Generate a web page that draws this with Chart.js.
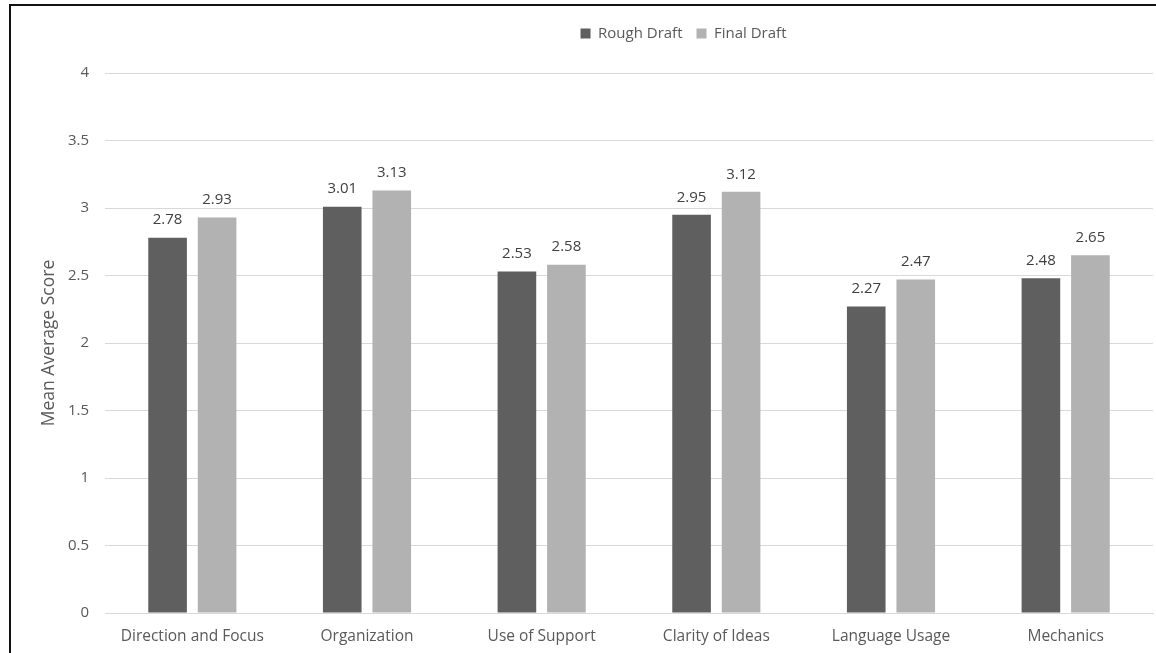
<!DOCTYPE html>
<html>
<head>
<meta charset="utf-8">
<script src="https://cdn.jsdelivr.net/npm/chart.js@4/dist/chart.umd.min.js"></script>
<style>
  html, body { margin: 0; padding: 0; background: #fff; }
  #wrap { position: relative; width: 1156px; height: 653px; overflow: hidden; }
  #frame { position: absolute; left: 9px; top: 4px; width: 1200px; height: 700px;
           border-left: 2px solid #111; border-top: 2px solid #111; box-sizing: border-box; }
  canvas { position: absolute; left: 0; top: 0; }
</style>
</head>
<body>
<div id="wrap">
  <canvas id="chart" width="1156" height="653"></canvas>
  <div id="frame"></div>
</div>
<script>
const categories = ["Direction and Focus", "Organization", "Use of Support", "Clarity of Ideas", "Language Usage", "Mechanics"];
const roughDraft = [2.78, 3.01, 2.53, 2.95, 2.27, 2.48];
const finalDraft = [2.93, 3.13, 2.58, 3.12, 2.47, 2.65];
const yTicks = [0, 0.5, 1, 1.5, 2, 2.5, 3, 3.5, 4];

const FONT = "'Open Sans', 'Noto Sans', sans-serif";
const TEXT = "#595959";

// Prints each bar's value just above its top
const valueLabels = {
  id: "valueLabels",
  afterDatasetsDraw(chart) {
    const ctx = chart.ctx;
    ctx.save();
    ctx.font = "15px " + FONT;
    ctx.fillStyle = "#404040";
    ctx.textAlign = "center";
    ctx.textBaseline = "bottom";
    chart.data.datasets.forEach((ds, i) => {
      chart.getDatasetMeta(i).data.forEach((bar, j) => {
        ctx.fillText(ds.data[j].toFixed(2), bar.x, bar.y - 10);
      });
    });
    ctx.restore();
  }
};

// Leaves extra room under the legend and moves it a little to the right
const legendPlacement = {
  id: "legendPlacement",
  beforeLayout(chart) {
    const lg = chart.legend;
    if (lg && !lg._extraGap) {
      const fit = lg.fit;
      lg.fit = function () { fit.call(this); this.height += 22; };
      lg._extraGap = true;
    }
  },
  afterLayout(chart) {
    const lg = chart.legend;
    if (lg) { lg.left += 107; lg.right += 107; }
  }
};

new Chart(document.getElementById("chart"), {
  type: "bar",
  data: {
    labels: categories,
    datasets: [
      { label: "Rough Draft", data: roughDraft, backgroundColor: "#5f5f5f",
        categoryPercentage: 0.567, barPercentage: 0.78 },
      { label: "Final Draft", data: finalDraft, backgroundColor: "#b2b2b2",
        categoryPercentage: 0.567, barPercentage: 0.78 }
    ]
  },
  options: {
    responsive: false,
    animation: false,
    layout: { padding: { left: 0, right: 3, top: 12, bottom: 0 } },
    plugins: {
      legend: {
        display: true,
        position: "top",
        labels: {
          font: { family: FONT, size: 15 },
          color: TEXT,
          boxWidth: 10,
          boxHeight: 10,
          padding: 14
        }
      },
      tooltip: { enabled: false },
      title: { display: false }
    },
    scales: {
      x: {
        grid: { display: false, drawTicks: false },
        border: { display: true, color: "#d9d9d9", width: 1 },
        ticks: { font: { family: FONT, size: 15.5 }, color: TEXT, padding: 14, maxRotation: 0 },
        afterFit(scale) { scale.height = 40; }
      },
      y: {
        min: 0,
        max: 4,
        afterBuildTicks(scale) { scale.ticks = yTicks.map(v => ({ value: v })); },
        grid: { color: "#d9d9d9", drawTicks: false },
        border: { display: false },
        ticks: { font: { family: FONT, size: 15 }, color: TEXT, padding: 16,
                 callback: v => String(v) },
        title: { display: true, text: "Mean Average Score", color: TEXT,
                 font: { family: FONT, size: 17.5 }, padding: { top: 39, bottom: 0 } },
        afterFit(scale) { scale.width = 105; }
      }
    }
  },
  plugins: [valueLabels, legendPlacement]
});
</script>
</body>
</html>
